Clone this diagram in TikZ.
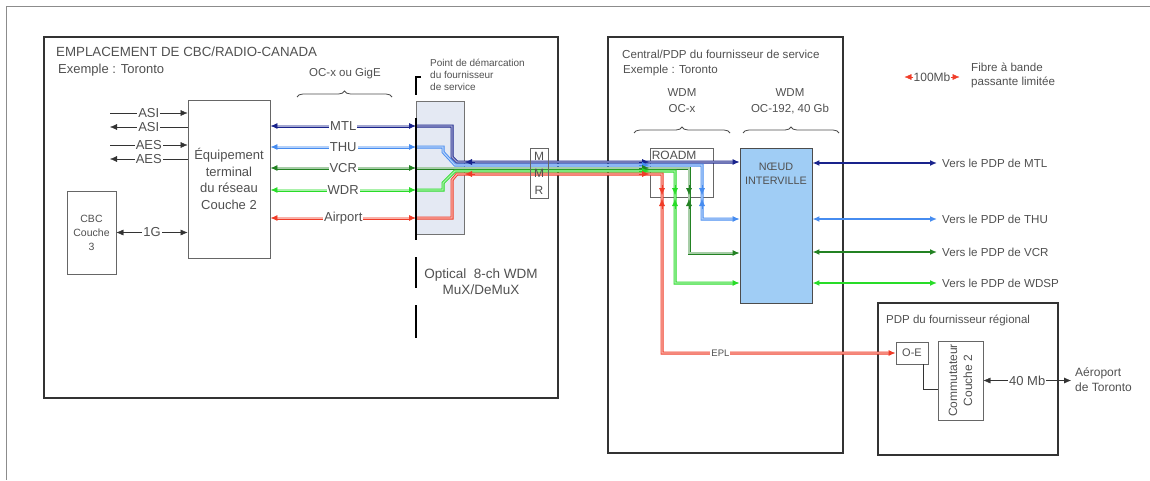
\documentclass[tikz,border=0pt]{standalone}
\usepackage{fontspec}
\setmainfont{Liberation Sans}
\usetikzlibrary{arrows.meta,positioning,decorations.pathreplacing}
\definecolor{txtc}{RGB}{80,80,80}
\definecolor{mtlc}{RGB}{25,35,140}
\definecolor{thuc}{RGB}{70,140,240}
\definecolor{vcrc}{RGB}{35,130,35}
\definecolor{wdrc}{RGB}{40,220,40}
\definecolor{airc}{RGB}{240,60,40}
\definecolor{demc}{RGB}{228,233,243}
\definecolor{noeudc}{RGB}{160,205,245}
\begin{document}
\begin{tikzpicture}[x=1pt,y=-1pt,
  txt/.style={text=txtc,font=\fontsize{13}{16}\selectfont,inner sep=0pt},
  small/.style={text=txtc,font=\fontsize{10}{12}\selectfont,inner sep=0pt},
  outer/.style={draw=black!80,line width=1.2pt},
  box/.style={draw=black!60,line width=0.9pt,fill=white,text=txtc,font=\fontsize{12}{15}\selectfont},
  chan/.style={draw=#1,double=#1!40,double distance=1.2pt,line width=0.9pt},
  arr/.style={-{Latex[length=7pt,width=6pt]}},
  twoway/.style={{Latex[length=7pt,width=6pt]}-{Latex[length=7pt,width=6pt]}},
  tag/.style={fill=white,inner sep=1pt,text=txtc,font=\fontsize{13}{15}\selectfont},
  brc/.style={decorate,decoration={brace,amplitude=6pt},draw=black!70,thick}]
\useasboundingbox (0,0) rectangle (1150,480);
\draw[black!45,line width=1pt] (1150,6) -- (6,6) -- (6,480);

\node[outer,minimum width=514,minimum height=361] (site) at (301,217.5) {};
\node[txt,anchor=west,font=\fontsize{13.3}{16}\selectfont] (sitet) at (56,52) {EMPLACEMENT DE CBC/RADIO-CANADA};
\node[txt,anchor=west] (sitex) at (58,70.5) {Exemple : Toronto};

\node[box,align=center,minimum width=82,minimum height=158,font=\fontsize{13}{16.5}\selectfont] (eq) at (229,179) {Équipement\\terminal\\du réseau\\Couche 2};
\node[box,align=center,minimum width=49,minimum height=83,font=\fontsize{10.5}{14}\selectfont] (cbc) at (91.5,232.5) {CBC\\Couche\\3};

\coordinate (asi1) at (110,113);
\coordinate (asi2) at (110,127);
\coordinate (aes1) at (110,145);
\coordinate (aes2) at (110,159);
\draw[black!80,arr] (asi1) -- node[tag]{ASI} (asi1 -| eq.west);
\draw[black!80,arr] (asi2 -| eq.west) -- node[tag]{ASI} (asi2);
\draw[black!80,arr] (aes1) -- node[tag]{AES} (aes1 -| eq.west);
\draw[black!80,arr] (aes2 -| eq.west) -- node[tag]{AES} (aes2);
\draw[black!80,twoway] (cbc.east) -- node[tag]{1G} (cbc.east -| eq.west);

\draw[brc] (297,97) -- (392,97);
\node[txt,font=\fontsize{11.5}{13}\selectfont] (ocx) at (345,74) {OC-x ou GigE};

\node[draw=black!55,fill=demc,line width=0.9pt,minimum width=48,minimum height=133] (dmx) at (440,167.5) {};
\node[small,anchor=north west,align=left] (dmxt) at (430,59) {Point de démarcation\\du fournisseur\\de service};
\node[txt,align=center,font=\fontsize{13.5}{16}\selectfont] (opt) at (481,282) {Optical~~8-ch WDM\\MuX/DeMuX};

\node[outer,minimum width=235,minimum height=416] (cpdp) at (725.5,245) {};
\node[txt,anchor=west,font=\fontsize{11.6}{14}\selectfont] (cpdpt) at (622,54) {Central/PDP du fournisseur de service};
\node[txt,anchor=west,font=\fontsize{11.6}{14}\selectfont] (cpdpx) at (623,70.5) {Exemple : Toronto};
\node[txt,align=center,font=\fontsize{11.5}{16}\selectfont] (wdm1) at (682,101) {WDM\\OC-x};
\node[txt,align=center,font=\fontsize{11.5}{16}\selectfont] (wdm2) at (790,101) {WDM\\OC-192, 40 Gb};
\draw[brc] (634,133) -- (730,133);
\draw[brc] (743,133) -- (839,133);

\node[box,minimum width=63,minimum height=49] (roadm) at (681.5,172.5) {};
\node[small,anchor=north west,font=\fontsize{12}{13}\selectfont] (roadmt) at ([xshift=2pt,yshift=-3pt]roadm.north west) {ROADM};
\node[draw=black!70,fill=noeudc,line width=0.9pt,minimum width=72,minimum height=155] (noeud) at (776,225.5) {};
\node[txt,align=center,below=15pt of noeud.north,font=\fontsize{10.8}{14.5}\selectfont] (noeudt) {NŒUD\\INTERVILLE};

\node[outer,minimum width=180,minimum height=152] (rpdp) at (968,379) {};
\node[txt,anchor=west,font=\fontsize{11.5}{14}\selectfont] (rpdpt) at (886,320) {PDP du fournisseur régional};
\node[box,minimum width=32,minimum height=22,inner sep=0pt,font=\fontsize{11}{13}\selectfont] (oe) at (912,353) {O-E};
\node[box,minimum width=45,minimum height=79] (sw) at (960.5,380.5) {};
\node[txt,rotate=90,align=center,font=\fontsize{12}{15}\selectfont] (swt) at (sw) {Commutateur\\Couche 2};
\draw[black!80] ([xshift=11pt]oe.south) |- ([yshift=-8.5pt]sw.west);
\coordinate (apt) at (1071,380.5);
\draw[black!80,twoway] (sw.east) -- node[tag]{40 Mb} (apt);
\node[txt,anchor=west,align=left,font=\fontsize{12}{15}\selectfont] (aptt) at (1075,380) {Aéroport\\de Toronto};

% canaux
\coordinate (dMTL) at (416,126);
\coordinate (dTHU) at (416,147);
\coordinate (dVCR) at (416,168);
\coordinate (dWDR) at (416,190);
\coordinate (dAir) at (416,218);
\draw[chan=mtlc,twoway] (eq.east |- dMTL) -- node[tag]{MTL} (dMTL);
\draw[chan=thuc,twoway] (eq.east |- dTHU) -- node[tag]{THU} (dTHU);
\draw[chan=vcrc,twoway] (eq.east |- dVCR) -- node[tag]{VCR} (dVCR);
\draw[chan=wdrc,twoway] (eq.east |- dWDR) -- node[tag]{WDR} (dWDR);
\draw[chan=airc,twoway] (eq.east |- dAir) -- node[tag]{Airport} (dAir);

\draw[chan=mtlc,arr] (dMTL) -- (452,126) -- (452,157) -- (457,162) -- (noeud.west |- 0,162);
\draw[chan=thuc,arr] (dTHU) -- (443,147) -- (443,152) -- (455,165) -- (702,165) -- (702,219) -- (noeud.west |- 0,219);
\draw[chan=vcrc,arr] (dVCR) -- (689,168) -- (689,253) -- (noeud.west |- 0,253);
\draw[chan=wdrc,arr] (dWDR) -- (443,190) -- (443,183) -- (455,171) -- (675,171) -- (675,283) -- (noeud.west |- 0,283);
\draw[chan=airc,arr] (dAir) -- (452,218) -- (452,180) -- (457,174) -- (662,174) -- (662,353) -- node[tag,pos=0.25,font=\fontsize{9.5}{11}\selectfont]{EPL} (oe.west);

\node[box,fill=none,align=center,minimum width=18,minimum height=50,inner sep=0pt,font=\fontsize{12}{17}\selectfont] (mmr) at (539,173) {M\\M\\R};

\draw[mtlc,arr] (475,162) -- (465,162);
\draw[airc,arr] (475,174) -- (465,174);
\draw[mtlc,arr] (639,162) -- (649,162);
\draw[thuc,arr] (639,165) -- (649,165);
\draw[vcrc,arr] (639,168) -- (649,168);
\draw[wdrc,arr] (639,171) -- (649,171);
\draw[airc,arr] (639,174) -- (649,174);
\draw[airc,arr] (662,185) -- (662,195);
\draw[airc,arr] (662,209) -- (662,199);
\draw[wdrc,arr] (675,185) -- (675,195);
\draw[wdrc,arr] (675,209) -- (675,199);
\draw[vcrc,arr] (689,185) -- (689,195);
\draw[vcrc,arr] (689,209) -- (689,199);
\draw[thuc,arr] (702,185) -- (702,195);
\draw[thuc,arr] (702,209) -- (702,199);

\draw[line width=1.6pt] (421,77) -- (416,77) -- (416,95);
\draw[line width=1.6pt] (416,118) -- (416,240);
\draw[line width=1.6pt] (416,257) -- (416,288);
\draw[line width=1.6pt] (416,305) -- (416,338);

% vers les PDP
\coordinate (vMTL) at (937,163);
\coordinate (vTHU) at (937,219);
\coordinate (vVCR) at (937,252);
\coordinate (vWDSP) at (937,283);
\draw[mtlc,line width=1.4pt,twoway] (vMTL -| noeud.east) -- (vMTL);
\draw[thuc,line width=1.4pt,twoway] (vTHU -| noeud.east) -- (vTHU);
\draw[vcrc,line width=1.4pt,twoway] (vVCR -| noeud.east) -- (vVCR);
\draw[wdrc,line width=1.4pt,twoway] (vWDSP -| noeud.east) -- (vWDSP);
\node[txt,anchor=west,font=\fontsize{11.6}{14}\selectfont] (vMTLt) at ([xshift=5pt]vMTL) {Vers le PDP de MTL};
\node[txt,anchor=west,font=\fontsize{11.6}{14}\selectfont] (vTHUt) at ([xshift=5pt]vTHU) {Vers le PDP de THU};
\node[txt,anchor=west,font=\fontsize{11.6}{14}\selectfont] (vVCRt) at ([xshift=5pt]vVCR) {Vers le PDP de VCR};
\node[txt,anchor=west,font=\fontsize{11.6}{14}\selectfont] (vWDSPt) at ([xshift=5pt]vWDSP) {Vers le PDP de WDSP};

% legende
\node[txt,font=\fontsize{12}{14}\selectfont] (bw) at (932,77) {100Mb};
\draw[airc,arr] (bw.west) -- ++(-9,0);
\draw[airc,arr] (bw.east) -- ++(9,0);
\node[txt,anchor=west,align=left,font=\fontsize{11.6}{14}\selectfont] (bwt) at (971,75) {Fibre à bande\\passante limitée};
\end{tikzpicture}
\end{document}
